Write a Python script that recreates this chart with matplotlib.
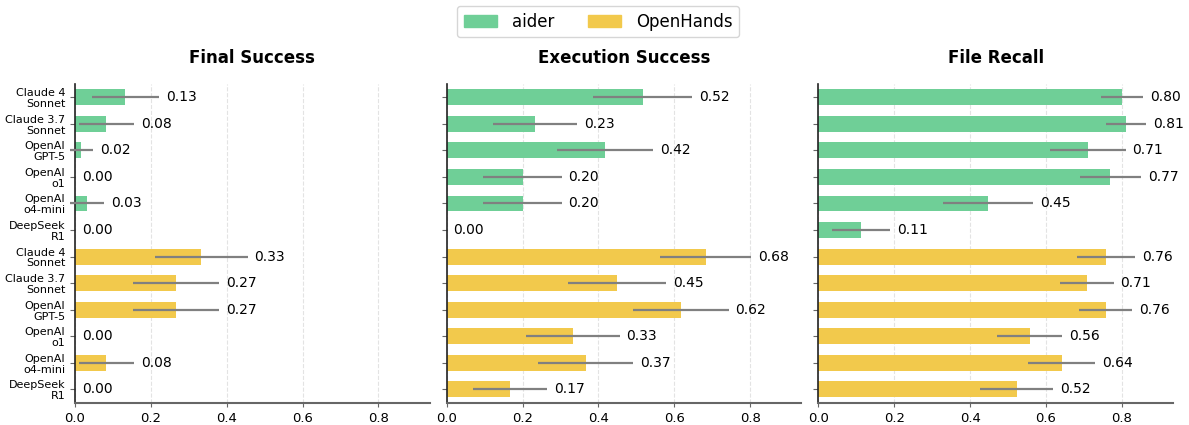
import numpy as np
import matplotlib
matplotlib.use('Agg')
import matplotlib.pyplot as plt
from matplotlib.patches import Patch

plt.rcParams['font.family'] = ['DejaVu Sans']

models = ['Claude 4\nSonnet', 'Claude 3.7\nSonnet', 'OpenAI\nGPT-5', 'OpenAI\no1',
          'OpenAI\no4-mini', 'DeepSeek\nR1']
agents = ['aider', 'OpenHands']
agent_colors = ['#6FCF97', '#F2C94C']

# values per agent, in model order
final_aider = [0.133, 0.083, 0.017, 0.0, 0.033, 0.0]
final_oh = [0.333, 0.267, 0.267, 0.0, 0.083, 0.0]
final_aider_err = [0.088, 0.072, 0.030, 0.0, 0.045, 0.0]
final_oh_err = [0.122, 0.114, 0.114, 0.0, 0.072, 0.0]

exec_aider = [0.517, 0.233, 0.417, 0.200, 0.200, 0.0]
exec_oh = [0.683, 0.450, 0.617, 0.333, 0.367, 0.167]
exec_aider_err = [0.130, 0.110, 0.127, 0.103, 0.103, 0.0]
exec_oh_err = [0.120, 0.129, 0.126, 0.123, 0.125, 0.097]

recall_aider = [0.800, 0.810, 0.710, 0.770, 0.447, 0.112]
recall_oh = [0.759, 0.707, 0.757, 0.557, 0.641, 0.523]
recall_aider_err = [0.055, 0.053, 0.100, 0.080, 0.119, 0.076]
recall_oh_err = [0.076, 0.071, 0.070, 0.086, 0.089, 0.096]

panels = [
    ('Final Success', final_aider, final_oh, final_aider_err, final_oh_err),
    ('Execution Success', exec_aider, exec_oh, exec_aider_err, exec_oh_err),
    ('File Recall', recall_aider, recall_oh, recall_aider_err, recall_oh_err),
]

fig, axes = plt.subplots(1, 3, figsize=(11.89, 4.25), dpi=100, sharey=True)
fig.subplots_adjust(left=0.063, right=0.9866, top=0.8024, bottom=0.0525, wspace=0.048)

labels = models + models
ypos = np.arange(len(labels))

for ax, (title, va, vo, ea, eo) in zip(axes, panels):
    vals = list(va) + list(vo)
    errs = list(ea) + list(eo)
    cols = [agent_colors[0]] * len(va) + [agent_colors[1]] * len(vo)
    ax.barh(ypos, vals, height=0.6, color=cols, zorder=2)
    for y, v, e in zip(ypos, vals, errs):
        if e > 0:
            ax.plot([v - e, v + e], [y, y], color='#808080', lw=1.6, zorder=3,
                    clip_on=False, solid_capstyle='butt')
        ax.annotate('%.2f' % v, (v + e, y), xytext=(5, 0), textcoords='offset points',
                    va='center', ha='left', fontsize=10)
    ax.set_xlim(0, 0.935)
    ax.set_ylim(len(labels) - 0.5, -0.5)
    ax.set_xticks([0.0, 0.2, 0.4, 0.6, 0.8])
    ax.grid(axis='x', ls='--', color='#e3e3e3', lw=0.8, zorder=0)
    ax.set_axisbelow(True)
    ax.spines['top'].set_visible(False)
    ax.spines['right'].set_visible(False)
    ax.spines['bottom'].set_color('#666666')
    ax.spines['bottom'].set_linewidth(1.5)
    ax.spines['left'].set_color('#222222')
    ax.spines['left'].set_linewidth(1.2)
    ax.tick_params(axis='y', colors='#666666', labelcolor='black', length=3.5)
    ax.tick_params(axis='x', colors='#666666', labelcolor='black', labelsize=9.5, length=3)
    ax.set_title(title, fontsize=12, fontweight='bold', pad=15)

axes[0].set_yticks(ypos)
axes[0].set_yticklabels(labels, fontsize=8, ha='right', multialignment='right',
                        linespacing=1.1)

handles = [Patch(color=c, label=a) for a, c in zip(agents, agent_colors)]
fig.legend(handles=handles, loc='upper center', bbox_to_anchor=(0.503, 0.986), ncol=2,
           fontsize=12, columnspacing=2.0, handletextpad=0.9, borderaxespad=0)

fig.savefig('out.png', dpi=100)
